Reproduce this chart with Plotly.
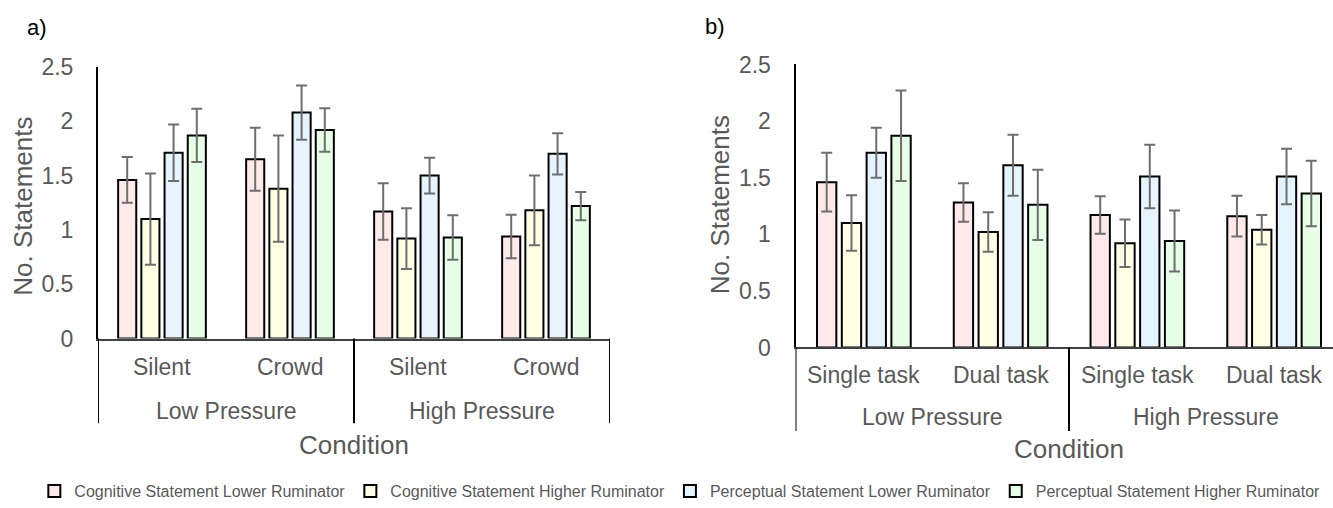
import plotly.graph_objects as go

# ---------------- data ----------------
series_names = ["Cognitive Statement Lower Ruminator", "Cognitive Statement Higher Ruminator",
                "Perceptual Statement Lower Ruminator", "Perceptual Statement Higher Ruminator"]
series_colors = ["#FFE9E9", "#FFFFE6", "#E6F4FF", "#E6FFE6"]

outer_labels = ["Low Pressure", "Low Pressure", "High Pressure", "High Pressure"]
inner_labels_a = ["Silent", "Crowd", "Silent", "Crowd"]
inner_labels_b = ["Single task", "Dual task", "Single task", "Dual task"]

# panel a
cog_low_a = [1.46, 1.65, 1.17, 0.94]
cog_low_a_err = [0.21, 0.29, 0.26, 0.20]
cog_high_a = [1.10, 1.38, 0.92, 1.18]
cog_high_a_err = [0.42, 0.49, 0.28, 0.32]
perc_low_a = [1.71, 2.08, 1.50, 1.70]
perc_low_a_err = [0.26, 0.25, 0.165, 0.19]
perc_high_a = [1.87, 1.92, 0.93, 1.22]
perc_high_a_err = [0.245, 0.20, 0.205, 0.13]

# panel b
cog_low_b = [1.46, 1.28, 1.17, 1.16]
cog_low_b_err = [0.26, 0.17, 0.165, 0.18]
cog_high_b = [1.10, 1.02, 0.92, 1.04]
cog_high_b_err = [0.245, 0.175, 0.21, 0.13]
perc_low_b = [1.72, 1.61, 1.51, 1.51]
perc_low_b_err = [0.22, 0.27, 0.28, 0.245]
perc_high_b = [1.87, 1.26, 0.94, 1.36]
perc_high_b_err = [0.40, 0.31, 0.27, 0.29]

y_ticks = [0, 0.5, 1, 1.5, 2, 2.5]
y_title = "No. Statements"
x_title = "Condition"

# ---------------- styling ----------------
W, H = 1333, 508
FONT = "Liberation Sans, Arial, sans-serif"
GREY_TXT = "#595959"

def py(pix):
    return 1 - pix / H

fig = go.Figure()

panel_a = [(cog_low_a, cog_low_a_err), (cog_high_a, cog_high_a_err),
           (perc_low_a, perc_low_a_err), (perc_high_a, perc_high_a_err)]
panel_b = [(cog_low_b, cog_low_b_err), (cog_high_b, cog_high_b_err),
           (perc_low_b, perc_low_b_err), (perc_high_b, perc_high_b_err)]

xpos = list(range(len(inner_labels_a)))

for axes_id, panel, show in (("", panel_a, True), ("2", panel_b, False)):
    for i, (vals, errs) in enumerate(panel):
        fig.add_trace(go.Bar(
            x=xpos, y=vals, name=series_names[i], legendgroup=series_names[i],
            showlegend=show, offsetgroup=str(i),
            marker=dict(color=series_colors[i], line=dict(color="#000000", width=2)),
            error_y=dict(type="data", array=errs, visible=True, color="#6E6E6E",
                         thickness=2, width=5.5),
            xaxis="x" + axes_id, yaxis="y" + axes_id,
        ))

# geometry (pixels)
a_left, a_right, a_bottom, a_top = 98, 610, 344, 68
b_left, b_bottom, b_top = 795.5, 353, 65.5
b_cat = 136.75
b_range_max = 3.5 - ((b_left + 4 * b_cat) - W) / b_cat

axis_common = dict(showgrid=False, zeroline=False, showticklabels=False, ticks="",
                   showline=True, linecolor="#404040", linewidth=2, fixedrange=True)
yaxis_common = dict(range=[0, 2.5], tickvals=y_ticks, ticktext=[f"{t:g}" for t in y_ticks],
                    showgrid=False, zeroline=False, showline=True, linecolor="#000000",
                    linewidth=2, ticks="", ticklabelstandoff=18,
                    tickfont=dict(family=FONT, size=23, color=GREY_TXT))

fig.update_layout(
    width=W, height=H, margin=dict(l=0, r=0, t=0, b=0),
    template="none", paper_bgcolor="white", plot_bgcolor="white",
    barmode="group", bargap=0.275, bargroupgap=0.22,
    xaxis=dict(domain=[a_left / W, a_right / W], range=[-0.5, 3.5], anchor="y", **axis_common),
    yaxis=dict(domain=[py(a_bottom), py(a_top)], anchor="x", **yaxis_common),
    xaxis2=dict(domain=[b_left / W, 1.0], range=[-0.5, b_range_max], anchor="y2", **axis_common),
    yaxis2=dict(domain=[py(b_bottom), py(b_top)], anchor="x2", **yaxis_common),
    showlegend=True,
    legend=dict(orientation="h", x=0.51, xanchor="center", y=py(499), yanchor="middle",
                font=dict(family=FONT, size=16, color=GREY_TXT), itemwidth=30,
                bgcolor="rgba(0,0,0,0)", traceorder="normal"),
)

annotations = []
shapes = []

def add_category_axis(xref, inner, bottom_pix, inner_y, outer_y, div_bottom, cond_y):
    # inner labels
    for i, lab in enumerate(inner):
        annotations.append(dict(x=xpos[i], y=py(inner_y), xref=xref, yref="paper", text=lab,
                                showarrow=False, xanchor="center", yanchor="middle",
                                font=dict(family=FONT, size=23, color=GREY_TXT)))
    # outer labels and dividers
    groups = []
    for i, lab in enumerate(outer_labels):
        if not groups or groups[-1][0] != lab:
            groups.append([lab, [i]])
        else:
            groups[-1][1].append(i)
    bounds = []
    for lab, idx in groups:
        annotations.append(dict(x=sum(idx) / len(idx), y=py(outer_y), xref=xref, yref="paper",
                                text=lab, showarrow=False, xanchor="center", yanchor="middle",
                                font=dict(family=FONT, size=23, color=GREY_TXT)))
        bounds.append(idx[0] - 0.5)
    bounds.append(groups[-1][1][-1] + 0.5)
    for bx in bounds:
        shapes.append(dict(type="line", xref=xref, yref="paper", x0=bx, x1=bx,
                           y0=py(bottom_pix), y1=py(div_bottom),
                           line=dict(color="#000000", width=2)))
    annotations.append(dict(x=(len(inner) - 1) / 2, y=py(cond_y), xref=xref, yref="paper",
                            text=x_title, showarrow=False, xanchor="center", yanchor="middle",
                            font=dict(family=FONT, size=26, color=GREY_TXT)))

add_category_axis("x", inner_labels_a, a_bottom, 372.5, 417.5, 430, 452.5)
add_category_axis("x2", inner_labels_b, b_bottom, 381.5, 424, 438, 456.5)

# y titles
annotations.append(dict(x=23 / W, y=py(210), xref="paper", yref="paper", text=y_title,
                        textangle=-90, showarrow=False, xanchor="center", yanchor="middle",
                        font=dict(family=FONT, size=26, color=GREY_TXT)))
annotations.append(dict(x=719.5 / W, y=py(208), xref="paper", yref="paper", text=y_title,
                        textangle=-90, showarrow=False, xanchor="center", yanchor="middle",
                        font=dict(family=FONT, size=26, color=GREY_TXT)))
# panel letters
annotations.append(dict(x=37 / W, y=py(28), xref="paper", yref="paper", text="a)",
                        showarrow=False, xanchor="center", yanchor="middle",
                        font=dict(family=FONT, size=22, color="#000000")))
annotations.append(dict(x=715 / W, y=py(27), xref="paper", yref="paper", text="b)",
                        showarrow=False, xanchor="center", yanchor="middle",
                        font=dict(family=FONT, size=22, color="#000000")))

fig.update_layout(annotations=annotations, shapes=shapes)

fig.write_html("out.html")
